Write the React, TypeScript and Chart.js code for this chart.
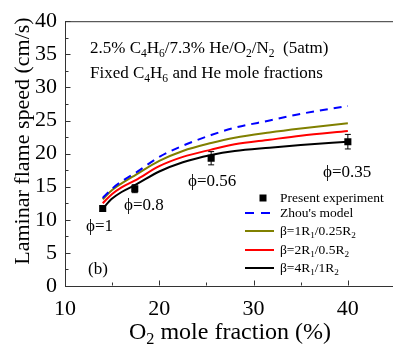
import React, { useEffect, useRef } from "react";
import { Chart, registerables } from "chart.js";
Chart.register(...registerables);

// ---- data ----
const modelO2 = [14, 15, 16, 17.5, 20, 22.5, 25.5, 28, 31.7, 35, 40];
const zhouModel = [13.3, 14.7, 15.8, 17.1, 19.5, 21.2, 22.8, 23.9, 25.0, 26.0, 27.2];
const beta1 = [13.1, 14.5, 15.5, 16.8, 18.9, 20.4, 21.6, 22.4, 23.2, 23.8, 24.6];
const beta2 = [12.5, 13.9, 14.9, 16.0, 18.1, 19.5, 20.6, 21.4, 22.1, 22.7, 23.4];
const beta4 = [11.7, 13.2, 14.2, 15.3, 17.3, 18.7, 19.8, 20.4, 20.9, 21.3, 21.8];
const expO2 = [14, 17.4, 25.5, 40];
const expSpeed = [11.7, 14.7, 19.3, 21.8];
const expError = [0.4, 0.6, 1.0, 1.1];
const xTicks = [10, 20, 30, 40];
const xMinorTicks = [15, 25, 35];
const yTicks = [0, 5, 10, 15, 20, 25, 30, 35, 40];
const yMinorTicks = [2.5, 7.5, 12.5, 17.5, 22.5, 27.5, 32.5, 37.5];

const FAM = '"Liberation Serif", "Times New Roman", serif';

type Part = [string, boolean];
function parse(s: string): Part[] {
  const out: Part[] = [];
  let buf = "";
  for (let i = 0; i < s.length; i++) {
    if (s[i] === "_" && i + 1 < s.length) {
      if (buf) out.push([buf, false]);
      buf = "";
      out.push([s[i + 1], true]);
      i++;
    } else buf += s[i];
  }
  if (buf) out.push([buf, false]);
  return out;
}
function richWidth(ctx: CanvasRenderingContext2D, parts: Part[], size: number) {
  let w = 0;
  for (const [t, sub] of parts) {
    ctx.font = `${sub ? size * 0.68 : size}px ${FAM}`;
    w += ctx.measureText(t).width;
  }
  return w;
}
function drawRich(ctx: CanvasRenderingContext2D, s: string, x: number, y: number, size: number, align: "left" | "center" = "left", color = "#000") {
  const parts = parse(s);
  const w = richWidth(ctx, parts, size);
  let cx = align === "center" ? x - w / 2 : x;
  ctx.fillStyle = color;
  ctx.textBaseline = "alphabetic";
  ctx.textAlign = "left";
  for (const [t, sub] of parts) {
    ctx.font = `${sub ? size * 0.68 : size}px ${FAM}`;
    ctx.fillText(t, cx, sub ? y + size * 0.22 : y);
    cx += ctx.measureText(t).width;
  }
}

const decorPlugin = {
  id: "decor",
  beforeDatasetsDraw(chart: any) {
    const { ctx } = chart;
    const xs = chart.scales.x;
    const ys = chart.scales.y;
    ctx.save();
    ctx.strokeStyle = "#000";
    ctx.lineWidth = 1;
    // error bars
    expO2.forEach((xv, i) => {
      const px = xs.getPixelForValue(xv);
      const p1 = ys.getPixelForValue(expSpeed[i] + expError[i]);
      const p2 = ys.getPixelForValue(expSpeed[i] - expError[i]);
      ctx.beginPath();
      ctx.moveTo(px, p1);
      ctx.lineTo(px, p2);
      ctx.moveTo(px - 3, p1);
      ctx.lineTo(px + 3, p1);
      ctx.moveTo(px - 3, p2);
      ctx.lineTo(px + 3, p2);
      ctx.stroke();
    });
    ctx.restore();
  },
  afterDraw(chart: any) {
    const { ctx, chartArea } = chart;
    const xs = chart.scales.x;
    const ys = chart.scales.y;
    ctx.save();
    ctx.strokeStyle = "#333";
    ctx.lineWidth = 1;
    ctx.beginPath();
    // top border
    ctx.moveTo(chartArea.left, chartArea.top + 0.5);
    ctx.lineTo(chartArea.right, chartArea.top + 0.5);
    // ticks (inward)
    const L = Math.round(chartArea.left) + 0.5;
    const B = Math.round(chartArea.bottom) - 0.5;
    yTicks.forEach((v) => {
      const py = Math.round(ys.getPixelForValue(v)) + 0.5;
      ctx.moveTo(L, py);
      ctx.lineTo(L + 5, py);
    });
    yMinorTicks.forEach((v) => {
      const py = Math.round(ys.getPixelForValue(v)) + 0.5;
      ctx.moveTo(L, py);
      ctx.lineTo(L + 3, py);
    });
    xTicks.forEach((v) => {
      const px = Math.round(xs.getPixelForValue(v)) + 0.5;
      ctx.moveTo(px, B);
      ctx.lineTo(px, B - 5);
    });
    xMinorTicks.forEach((v) => {
      const px = Math.round(xs.getPixelForValue(v)) + 0.5;
      ctx.moveTo(px, B);
      ctx.lineTo(px, B - 3);
    });
    ctx.stroke();

    // annotations
    drawRich(ctx, "2.5% C_4H_6/7.3% He/O_2/N_2  (5atm)", 90, 53, 17);
    drawRich(ctx, "Fixed C_4H_6 and He mole fractions", 90, 78, 17);
    drawRich(ctx, "ϕ=1", 86, 231, 17);
    drawRich(ctx, "ϕ=0.8", 124, 210, 17);
    drawRich(ctx, "ϕ=0.56", 188, 186, 17);
    drawRich(ctx, "ϕ=0.35", 323, 177, 17);
    drawRich(ctx, "(b)", 88, 274, 17);

    // legend
    const lx1 = 245, lx2 = 274, tx = 280;
    ctx.fillStyle = "#000";
    ctx.fillRect(263 - 3.5, 198 - 3.5, 7, 7);
    drawRich(ctx, "Present experiment", tx, 202, 13.5);
    const items: [string, string, number[], number][] = [
      ["Zhou's model", "#0000ff", [9, 7], 213],
      ["β=1R_1/0.25R_2", "#808000", [], 231],
      ["β=2R_1/0.5R_2", "#ff0000", [], 250],
      ["β=4R_1/1R_2", "#000000", [], 268],
    ];
    items.forEach(([label, color, dash, y]) => {
      ctx.save();
      ctx.strokeStyle = color;
      ctx.lineWidth = 2;
      ctx.setLineDash(dash);
      ctx.beginPath();
      ctx.moveTo(lx1, y);
      ctx.lineTo(lx2, y);
      ctx.stroke();
      ctx.restore();
      drawRich(ctx, label, tx, y + 4, 13.5);
    });

    // axis titles
    drawRich(ctx, "O_2 mole fraction (%)", 230, 339, 24, "center");
    ctx.save();
    ctx.translate(28.5, 141);
    ctx.rotate(-Math.PI / 2);
    drawRich(ctx, "Laminar flame speed (cm/s)", 0, 0, 22, "center");
    ctx.restore();
    ctx.restore();
  },
};

export default function App() {
  const ref = useRef<HTMLCanvasElement>(null);
  useEffect(() => {
    if (!ref.current) return;
    const line = (data: number[], color: string, dash: number[] = []) => ({
      type: "line" as const,
      data: modelO2.map((x, i) => ({ x, y: data[i] })),
      borderColor: color,
      borderWidth: 2,
      borderDash: dash,
      pointRadius: 0,
      fill: false,
      cubicInterpolationMode: "monotone" as const,
    });
    const chart = new Chart(ref.current, {
      type: "scatter",
      data: {
        datasets: [
          line(zhouModel, "#0000ff", [8, 6]),
          line(beta1, "#808000"),
          line(beta2, "#ff0000"),
          line(beta4, "#000000"),
          {
            type: "scatter",
            data: expO2.map((x, i) => ({ x, y: expSpeed[i] })),
            pointStyle: "rect",
            pointRadius: 5,
            backgroundColor: "#000",
            borderColor: "#000",
            borderWidth: 0,
          } as any,
        ],
      },
      options: {
        animation: false,
        responsive: false,
        devicePixelRatio: 1,
        layout: { padding: { left: 0, top: 21, right: 5, bottom: 0 } },
        plugins: { legend: { display: false }, tooltip: { enabled: false } },
        scales: {
          x: {
            type: "linear",
            min: 10,
            max: 45,
            afterBuildTicks: (s: any) => {
              s.ticks = xTicks.map((v) => ({ value: v }));
            },
            afterFit: (s: any) => {
              s.height = 58;
            },
            grid: { display: false, drawTicks: false },
            border: { display: true, color: "#333", width: 1 },
            ticks: { color: "#000", font: { family: FAM, size: 22 }, padding: 10, maxRotation: 0 },
          },
          y: {
            type: "linear",
            min: 0,
            max: 40,
            afterBuildTicks: (s: any) => {
              s.ticks = yTicks.map((v) => ({ value: v }));
            },
            afterFit: (s: any) => {
              s.width = 65;
            },
            grid: { display: false, drawTicks: false },
            border: { display: true, color: "#333", width: 1 },
            ticks: { color: "#000", font: { family: FAM, size: 22 }, padding: 8 },
          },
        },
      },
      plugins: [decorPlugin],
    });
    return () => chart.destroy();
  }, []);
  return (
    <div style={{ position: "absolute", left: 0, top: 0, width: 393, height: 344, overflow: "hidden", background: "#fff" }}>
      <canvas ref={ref} width={400} height={344} style={{ width: 400, height: 344, display: "block" }} />
    </div>
  );
}
